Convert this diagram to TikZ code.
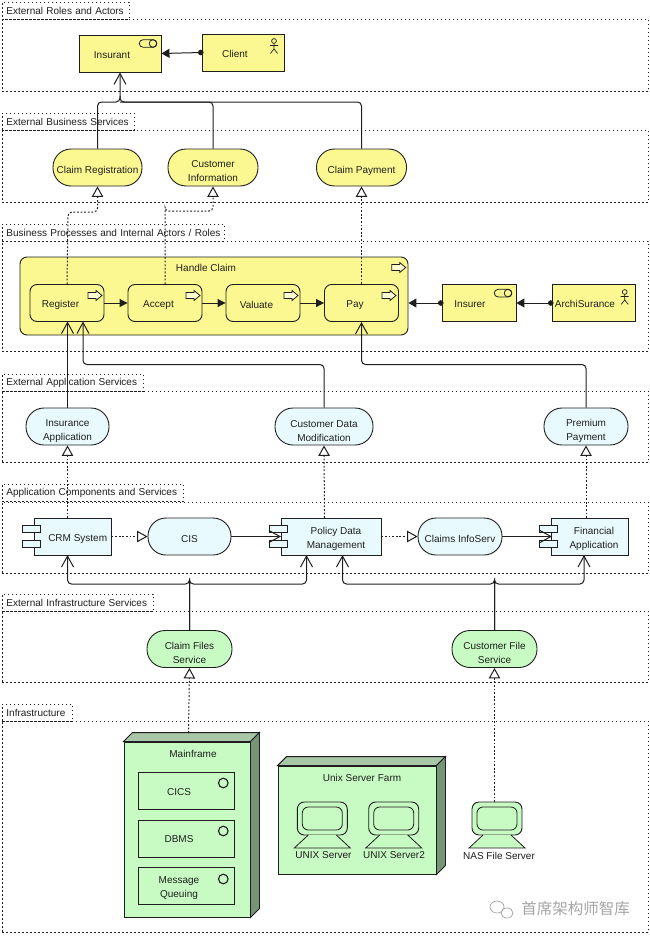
\documentclass[tikz,border=0pt]{standalone}
\usepackage{fontspec}
\setmainfont{Liberation Sans}
\newfontfamily\cjkfont{Noto Sans CJK SC}
\usetikzlibrary{arrows.meta,calc}
\definecolor{bizcol}{RGB}{252,248,145}
\definecolor{appcol}{RGB}{232,250,253}
\definecolor{techcol}{RGB}{200,250,195}
\definecolor{topcol}{RGB}{170,198,168}
\definecolor{sidecol}{RGB}{118,148,118}
\definecolor{linecol}{RGB}{30,30,30}
\definecolor{markcol}{RGB}{165,165,165}
\tikzset{every picture/.style={x=1pt,y=-1pt}}
\tikzset{every node/.style={font=\fontsize{10}{14}\selectfont,text=linecol}}
\tikzset{layerbody/.style={draw=linecol,dash pattern=on 1.2pt off 2.8pt,line width=.9pt,minimum width=646,anchor=north west,inner sep=0}}
\tikzset{layertab/.style={draw=linecol,dash pattern=on 1.2pt off 2.8pt,line width=.9pt,minimum height=17,anchor=north west,inner xsep=4,inner ysep=0,align=left}}
\tikzset{elem/.style={draw=linecol,line width=.9pt,minimum height=37,inner sep=0,align=center}}
\tikzset{actor/.style={elem,fill=bizcol,text height=9.2}}
\tikzset{process/.style={elem,fill=bizcol,rounded corners=7,minimum width=74,text height=11.2}}
\tikzset{bservice/.style={elem,fill=bizcol,rounded corners=18,text height=13.2}}
\tikzset{aservice/.style={elem,fill=appcol,rounded corners=18,text height=31}}
\tikzset{tservice/.style={elem,fill=techcol,rounded corners=18,text height=29}}
\tikzset{appservice/.style={elem,fill=appcol,rounded corners=18,text height=12.2}}
\tikzset{component/.style={elem,fill=appcol,minimum width=77,text height=26.6}}
\tikzset{artifactbox/.style={elem,fill=techcol,minimum width=96,text height=9.2}}
\tikzset{annot/.style={inner sep=0}}
\tikzset{assign/.style={linecol,line width=1pt,shorten <=-2pt,{Circle[length=5.5pt]}-{Triangle[length=8pt,width=9pt]}}}
\tikzset{trigger/.style={linecol,line width=1pt,-{Triangle[length=8pt,width=8pt]}}}
\tikzset{used/.style={linecol,line width=1pt,rounded corners=4,-{Straight Barb[length=11pt,width=12pt]}}}
\tikzset{plain/.style={linecol,line width=1pt,rounded corners=4}}
\tikzset{realize/.style={linecol,line width=1pt,dash pattern=on 1.8pt off 1.8pt,rounded corners=4,-{Triangle[fill=white,length=10.5pt,width=11.5pt]}}}
\tikzset{procicon/.pic={\draw [linecol,fill=white,fill opacity=.6,line width=.8pt] (0,-3) -- (8,-3) -- (8,-5) -- (14,0) -- (8,5) -- (8,3) -- (0,3) -- cycle;}}
\tikzset{roleicon/.pic={\draw [linecol,line width=.8pt,rounded corners=3.8] (0,0) rectangle (17.5,7.6); \draw [linecol,line width=.8pt] (13.7,3.8) circle (3.8);}}
\tikzset{actoricon/.pic={\draw [linecol,line width=.7pt] (0,0) circle (2.4) (0,2.4) -- (0,8) (-4,4.5) -- (4,4.5) (-3.6,12.4) -- (0,8) -- (3.6,12.4);}}
\tikzset{comptabs/.pic={\draw [linecol,line width=.9pt,fill=appcol] (-11.5,-11) rectangle (6.5,-4); \draw [linecol,line width=.9pt,fill=appcol] (-11.5,3.5) rectangle (6.5,11);}}
\tikzset{artifact/.pic={\draw [linecol,line width=1.1pt] (0,0) circle (4.8);}}
\tikzset{screen/.pic={\draw [linecol,line width=.8pt,fill=techcol] (-14,16.5) -- (-28,29.5) -- (28,29.5) -- (14,16.5); \draw [linecol,line width=.8pt,rounded corners=6] (-20,-11.5) rectangle (20,11.5);}}
\newcommand{\nodedepth}[1]{%
\draw [linecol,line width=.9pt,fill=topcol] (#1.north west) -- ++(9,-9) -- ($(#1.north east)+(9,-9)$) -- (#1.north east) -- cycle;
\draw [linecol,line width=.9pt,fill=sidecol] (#1.north east) -- ++(9,-9) -- ($(#1.south east)+(9,-9)$) -- (#1.south east) -- cycle;}

\begin{document}
\begin{tikzpicture}
\useasboundingbox (0,0) rectangle (650,937);
% layers
\node [layertab,text width=119] (roletab) at (2,2) {External Roles and Actors};
\node [layerbody,minimum height=72] (rolebody) at (2,19) {};
\node [layertab,text width=124] (bservtab) at (2,113) {External Business Services};
\node [layerbody,minimum height=72] (bservbody) at (2,130) {};
\node [layertab,text width=214] (proctab) at (2,224) {Business Processes and Internal Actors / Roles};
\node [layerbody,minimum height=110] (procbody) at (2,241) {};
\node [layertab,text width=133] (aservtab) at (2,374) {External Application Services};
\node [layerbody,minimum height=71] (aservbody) at (2,391) {};
\node [layertab,text width=173] (comptab) at (2,484) {Application Components and Services};
\node [layerbody,minimum height=71] (compbody) at (2,502) {};
\node [layertab,text width=143] (iservtab) at (2,594) {External Infrastructure Services};
\node [layerbody,minimum height=71] (iservbody) at (2,611) {};
\node [layertab,text width=62] (infratab) at (2,704) {Infrastructure};
\node [layerbody,minimum height=211] (infrabody) at (2,721) {};
% actors and roles
\node [actor,minimum width=82] (insurant) at (120,53.5) {Insurant\hspace*{16pt}};
\node [actor,minimum width=82] (client) at (243,52.5) {Client\hspace*{16pt}};
\pic at (139.3,39.7) {roleicon};
\pic at (274,41) {actoricon};
% business services
\node [bservice,minimum width=89] (claimreg) at (97.5,167.5) {Claim Registration};
\node [bservice,minimum width=90,text height=27.6] (custinfo) at (213,167.5) {Customer\\Information};
\node [bservice,minimum width=90] (claimpay) at (361.5,167.5) {Claim Payment};
% processes
\node [elem,fill=bizcol,rounded corners=7,minimum width=388,minimum height=78] (handle) at (214,296) {};
\node [annot] (handlelabel) at (206,268) {Handle Claim};
\pic at (391.7,267.5) {procicon};
\node [process] (register) at (67,303) {Register\hspace*{13pt}};
\node [process] (accept) at (165,303) {Accept\hspace*{13pt}};
\node [process] (valuate) at (263,303) {Valuate\hspace*{13pt}};
\node [process] (pay) at (361.5,303) {Pay\hspace*{13pt}};
\pic at (88,295.5) {procicon};
\pic at (186,295.5) {procicon};
\pic at (284,295.5) {procicon};
\pic at (382,295.5) {procicon};
\node [actor,minimum width=74] (insurer) at (479,303) {Insurer\hspace*{18pt}};
\node [actor,minimum width=83] (archi) at (593.5,303) {ArchiSurance\hspace*{17pt}};
\pic at (494.3,289.3) {roleicon};
\pic at (624.7,292) {actoricon};
% application services
\node [aservice,minimum width=83] (insapp) at (67.5,426.5) {Insurance\\Application};
\node [aservice,minimum width=98] (custmod) at (324,426.5) {Customer Data\\Modification};
\node [aservice,minimum width=84] (premium) at (586,426.5) {Premium\\Payment};
% application components
\node [component,text height=12.2] (crm) at (72.7,536.5) {\hspace*{10pt}CRM System};
\node [appservice,minimum width=83] (cis) at (189.5,536.5) {CIS};
\node [component,minimum width=100] (policy) at (331,536.5) {\hspace*{10pt}Policy Data\\\hspace*{10pt}Management};
\node [appservice,minimum width=84] (infoserv) at (460,536.5) {Claims InfoServ};
\node [component] (financial) at (590,536.5) {\hspace*{8pt}Financial\\\hspace*{8pt}Application};
\pic at (crm.west) {comptabs};
\pic at (policy.west) {comptabs};
\pic at (financial.west) {comptabs};
% infrastructure services
\node [tservice,minimum width=85] (claimfiles) at (189.5,649) {Claim Files\\Service};
\node [tservice,minimum width=85] (custfile) at (494.5,649) {Customer File\\Service};
% infrastructure
\node [elem,fill=techcol,minimum width=126,minimum height=175] (mainframe) at (187,829.5) {};
\nodedepth{mainframe}
\node [annot] (mainlabel) at (193,754) {Mainframe};
\node [artifactbox] (cics) at (186.5,790.5) {CICS\hspace*{15pt}};
\node [artifactbox,text height=7.5] (dbms) at (186.5,838.5) {DBMS\hspace*{15pt}};
\node [artifactbox,text height=25] (queuing) at (186.5,886) {Message\hspace*{15pt}\\Queuing\hspace*{15pt}};
\pic at (223.3,783) {artifact};
\pic at (223.3,831) {artifact};
\pic at (223.3,879) {artifact};
\node [elem,fill=techcol,minimum width=158,minimum height=108] (farm) at (357,820) {};
\nodedepth{farm}
\node [annot] (farmlabel) at (362,777.5) {Unix Server Farm};
\node [elem,fill=techcol,rounded corners=7,minimum width=50,minimum height=33] (unixa) at (322.3,818.5) {};
\node [elem,fill=techcol,rounded corners=7,minimum width=50,minimum height=33] (unixb) at (393.7,818.5) {};
\node [elem,fill=techcol,rounded corners=7,minimum width=50,minimum height=33] (nas) at (497,818.5) {};
\pic at (unixa.center) {screen};
\pic at (unixb.center) {screen};
\pic at (nas.center) {screen};
\node [annot] (unixalabel) at (323.5,855.5) {UNIX Server};
\node [annot] (unixblabel) at (394,855.5) {UNIX Server2};
\node [annot] (naslabel) at (499,855.5) {NAS File Server};
% corners of the connectors
\coordinate (toins) at (120,102);
\coordinate (toreg) at (68,212);
\coordinate (toinfo) at (165,211);
\coordinate (tocust) at (83,364.5);
\coordinate (topay) at (361.5,364.5);
\coordinate (crmfork) at (189.5,584);
\coordinate (custfork) at (494.5,584);
\coordinate (crmbase) at (67.5,555);
\coordinate (policybase) at (306.5,555);
\coordinate (policybasetwo) at (342.5,555);
\coordinate (finbase) at (584,555);
\coordinate (policytop) at (324.5,518);
\coordinate (fintop) at (586,518);
\coordinate (crmtop) at (67.5,518);
\coordinate (maintop) at (188.5,733);
\coordinate (regbase) at (67.5,321.5);
\coordinate (regbasetwo) at (83,321.5);
\coordinate (nastop) at (494.5,802);
\coordinate (cisend) at (281,536.5);
\coordinate (infoend) at (552,536.5);
% connectors
\draw [assign] (client.west) -- (insurant.east);
\draw [used] (claimreg.north) |- (toins) -- (insurant.south);
\draw [plain] (claimpay.north) |- (toins) -- ++(0,-6);
\draw [plain] (custinfo.north) |- (toins);
\draw [realize] (register.north) -- (toreg) -| (claimreg.south);
\draw [realize] (accept.north) |- (toinfo) -| (custinfo.south);
\draw [realize] (pay.north) -- (claimpay.south);
\draw [trigger] (register.east) -- (accept.west);
\draw [trigger] (accept.east) -- (valuate.west);
\draw [trigger] (valuate.east) -- (pay.west);
\draw [assign] (insurer.west) -- (handle.east |- insurer.west);
\draw [assign] (archi.west) -- (insurer.east);
\draw [used] (insapp.north) -- (regbase);
\draw [used] (custmod.north) |- (tocust) -- (regbasetwo);
\draw [used] (premium.north) |- (topay) -- (pay.south);
\draw [realize] (crmtop) -- (insapp.south);
\draw [realize] (policytop) -- (custmod.south);
\draw [realize] (fintop) -- (premium.south);
\draw [realize] (crm.east) -- (cis.west);
\draw [used] (cis.east) -- (cisend);
\draw [realize] (policy.east) -- (infoserv.west);
\draw [used] (infoserv.east) -- (infoend);
\draw [used] (claimfiles.north) |- (crmfork) -| (crmbase);
\draw [used] (claimfiles.north) |- (crmfork) -| (policybase);
\draw [used] (custfile.north) |- (custfork) -| (policybasetwo);
\draw [used] (custfile.north) |- (custfork) -| (finbase);
\draw [realize] (maintop) -- (claimfiles.south);
\draw [realize] (nastop) -- (custfile.south);
% mark in the corner
\draw [markcol,line width=.7pt,fill=white] (497,907) ellipse (7 and 6);
\draw [markcol,line width=.7pt,fill=white] (507,913) ellipse (6 and 5);
\node [annot,text=markcol,font=\cjkfont\fontsize{15.5}{16}\selectfont] (mark) at (575.5,909) {首席架构师智库};
\end{tikzpicture}
\end{document}
